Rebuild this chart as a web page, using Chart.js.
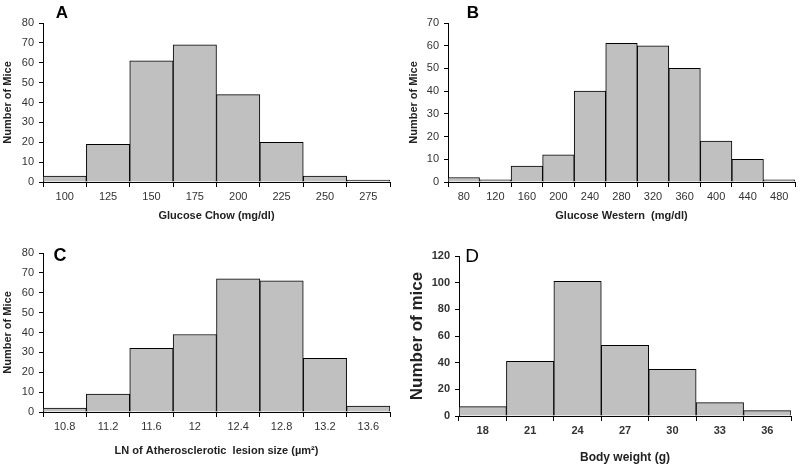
<!DOCTYPE html>
<html>
<head>
<meta charset="utf-8">
<script src="https://cdn.jsdelivr.net/npm/chart.js@4.4.0/dist/chart.umd.min.js"></script>
<style>
body { margin:0; background:#fff; }
#wrap { position:relative; width:800px; height:470px; font-family:"Liberation Sans", Arial, sans-serif; }
canvas { position:absolute; }
.lbl { position:absolute; color:#000; line-height:1; transform:translate(-50%,-50%); }
</style>
</head>
<body>
<div id="wrap">
<canvas id="A" width="400" height="235" style="left:0;top:0"></canvas>
<canvas id="B" width="400" height="235" style="left:400px;top:0"></canvas>
<canvas id="C" width="400" height="235" style="left:0;top:235px"></canvas>
<canvas id="D" width="400" height="235" style="left:400px;top:235px"></canvas>
<div class="lbl" style="left:62px;top:12px;font-size:17px;font-weight:bold">A</div>
<div class="lbl" style="left:473px;top:12px;font-size:17px;font-weight:bold">B</div>
<div class="lbl" style="left:60px;top:255px;font-size:18px;font-weight:bold">C</div>
<div class="lbl" style="left:472px;top:255px;font-size:19px">D</div>
</div>
<script>
var glucoseChowBins = ["100","125","150","175","200","225","250","275"];
var glucoseChowMice = [3,19,61,69,44,20,3,1];

var glucoseWesternBins = ["80","120","160","200","240","280","320","360","400","440","480"];
var glucoseWesternMice = [2,1,7,12,40,61,60,50,18,10,1];

var lesionBins = ["10.8","11.2","11.6","12","12.4","12.8","13.2","13.6"];
var lesionMice = [2,9,32,39,67,66,27,3];

var weightBins = ["18","21","24","27","30","33","36"];
var weightMice = [7,41,101,53,35,10,4];

function hist(id, labels, values, o){
  var ctx = document.getElementById(id);
  var tickFont = {family:"Liberation Sans", size:11, weight: o.boldTicks ? 'bold' : 'normal'};
  return new Chart(ctx, {
    type: 'bar',
    data: {
      labels: labels,
      datasets: [{
        data: values,
        backgroundColor: '#c0c0c0',
        borderColor: '#000',
        borderWidth: 1,
        categoryPercentage: 1.0,
        barPercentage: 1.0
      }]
    },
    options: {
      responsive: false,
      animation: false,
      layout: {padding: {top: o.top, right: o.right, left: 0, bottom: 0}},
      plugins: {legend: {display:false}, tooltip: {enabled:false}},
      scales: {
        x: {
          grid: {offset:true, drawOnChartArea:false, tickLength:5, color:'#000'},
          border: {color:'#000'},
          ticks: {autoSkip:false, maxRotation:0, padding:3, color:'#333', font:tickFont},
          title: {display:true, text:o.xTitle, color:'#222', padding:{top:0,bottom:o.xPad},
                  font:{family:"Liberation Sans", size:o.xSize, weight:'bold'}},
          afterFit: function(s){ s.height = o.xH; }
        },
        y: {
          min: 0, max: o.max,
          grid: {drawOnChartArea:false, tickLength:4, color:'#000'},
          border: {color:'#000'},
          ticks: {stepSize:o.step, padding:5, color:'#333', font:tickFont},
          title: {display:true, text:o.yTitle, color:'#222', padding:{top:o.yPad,bottom:0},
                  font:{family:"Liberation Sans", size:o.ySize, weight:'bold'}},
          afterFit: function(s){ s.width = o.yW; }
        }
      }
    }
  });
}

hist('A', glucoseChowBins, glucoseChowMice,
  {top:23, right:10, xH:53, yW:43, max:80, step:10, xTitle:'Glucose Chow (mg/dl)', yTitle:'Number of Mice',
   xSize:11, xPad:12, ySize:11, yPad:1});
hist('B', glucoseWesternBins, glucoseWesternMice,
  {top:23, right:5, xH:53, yW:48, max:70, step:10, xTitle:'Glucose Western  (mg/dl)', yTitle:'Number of Mice',
   xSize:11, xPad:12, ySize:11, yPad:7});
hist('C', lesionBins, lesionMice,
  {top:18, right:10, xH:58, yW:43, max:80, step:10, xTitle:'LN of Atherosclerotic  lesion size (\u00b5m\u00b2)', yTitle:'Number of Mice',
   xSize:11, xPad:12, ySize:11, yPad:1});
hist('D', weightBins, weightMice,
  {top:21, right:9, xH:54, yW:59, max:120, step:20, xTitle:'Body weight (g)', yTitle:'Number of mice',
   xSize:12, xPad:5, ySize:17, yPad:7, boldTicks:true});
</script>
</body>
</html>
